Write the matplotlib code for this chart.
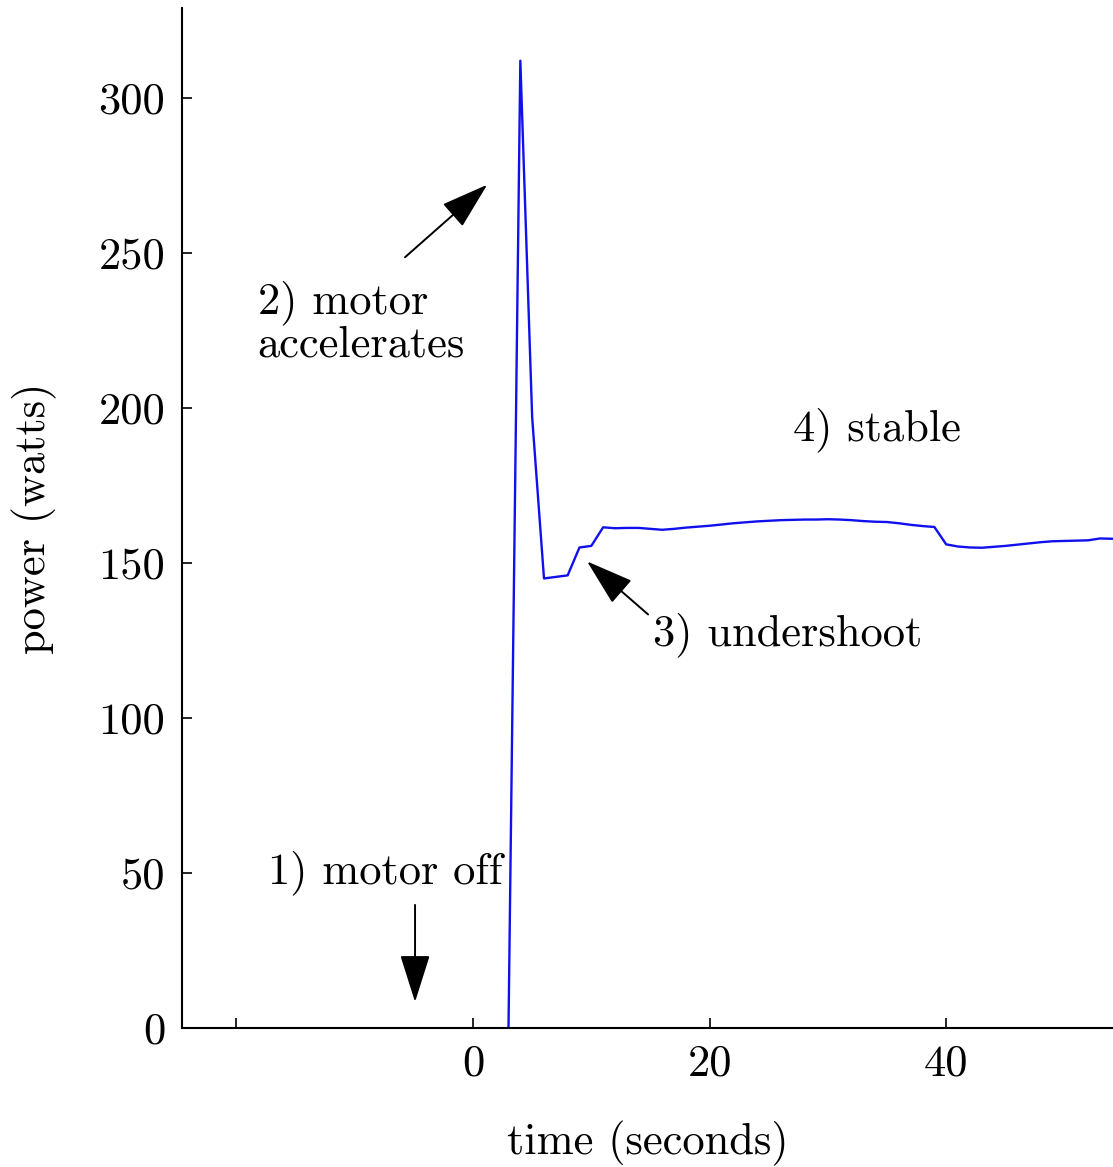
import matplotlib
matplotlib.use("Agg")
import matplotlib.pyplot as plt

plt.rcParams['font.family'] = ['cmr10', 'DejaVu Serif']
plt.rcParams['mathtext.fontset'] = 'cm'
plt.rcParams['axes.unicode_minus'] = False
plt.rcParams['axes.formatter.use_mathtext'] = True

time_s = [3, 4, 5, 6, 7, 8, 9, 10, 11, 12, 13, 14, 15, 16, 17, 18, 19, 20,
          21, 22, 23, 24, 25, 26, 27, 28, 29, 30, 31, 32, 33, 34, 35, 36, 37,
          38, 39, 40, 41, 42, 43, 44, 45, 46, 47, 48, 49, 50, 51, 52, 53, 54]
power_w = [0, 312, 197, 145, 145.5, 146, 155, 155.5, 161.5, 161.2, 161.3, 161.3,
           161.0, 160.7, 161.0, 161.4, 161.7, 162.0, 162.4, 162.8, 163.1, 163.4,
           163.6, 163.8, 163.9, 164.0, 164.0, 164.1, 164.0, 163.8, 163.5, 163.3,
           163.2, 162.8, 162.3, 161.9, 161.6, 156.0, 155.3, 155.0, 154.9, 155.2,
           155.5, 155.9, 156.3, 156.7, 157.0, 157.1, 157.2, 157.3, 157.9, 157.8]

xticks = [-20, 0, 20, 40]
xtick_labels = ['', '0', '20', '40']
yticks = [0, 50, 100, 150, 200, 250, 300]
ytick_labels = ['0', '50', '100', '150', '200', '250', '300']

W, H = 1113, 1167
fig = plt.figure(figsize=(W / 100, H / 100), dpi=100)
ax = fig.add_axes([182 / W, (H - 1028) / H, (W - 182) / W, (1028 - 8) / H])

ax.plot(time_s, power_w, color='#1010ee', lw=1.7)

ax.set_xlim(-24.6, 54.1)
ax.set_ylim(0, 329)
ax.set_xticks(xticks)
ax.set_xticklabels(xtick_labels)
ax.set_yticks(yticks)
ax.set_yticklabels(ytick_labels)
ax.tick_params(direction='in', length=7, width=1.2, labelsize=32, pad=12)
for s in ['top', 'right']:
    ax.spines[s].set_visible(False)
for s in ['left', 'bottom']:
    ax.spines[s].set_linewidth(1.5)

ax.set_xlabel('time (seconds)', fontsize=32, labelpad=26)
ax.set_ylabel('power (watts)', fontsize=32, labelpad=30)

fs = 32
ap = dict(arrowstyle='-|>,head_length=3.0,head_width=0.95', color='black', lw=1.4,
          shrinkA=0, shrinkB=0)

ax.text(-18.2, 241, '2) motor\naccelerates', fontsize=fs, ha='left', va='top',
        linespacing=1.0)
ax.annotate('', xy=(1.2, 272), xytext=(-5.75, 248.6), arrowprops=ap)

ax.text(-17.3, 50, '1) motor off', fontsize=fs, ha='left', va='center')
ax.annotate('', xy=(-4.9, 8.4), xytext=(-4.9, 39.7), arrowprops=ap)

ax.text(15.2, 127, '3) undershoot', fontsize=fs, ha='left', va='center')
ax.annotate('', xy=(9.64, 150.5), xytext=(14.8, 133.4), arrowprops=ap)

ax.text(27.05, 193, '4) stable', fontsize=fs, ha='left', va='center')

fig.savefig('out.png', dpi=100)
